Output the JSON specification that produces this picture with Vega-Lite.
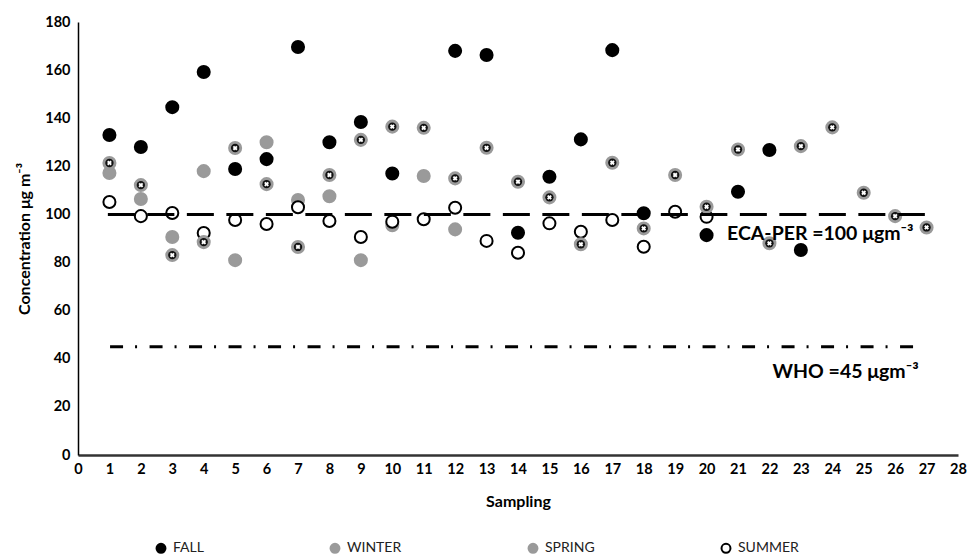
{
  "$schema": "https://vega.github.io/schema/vega-lite/v6.json",
  "width": 880,
  "height": 433,
  "autosize": {"type": "none"},
  "padding": {"left": 78, "top": 22, "right": 10, "bottom": 103},
  "background": "white",
  "config": {
    "view": {"stroke": null},
    "font": "Lato",
    "axis": {"grid": false, "ticks": false, "labelFont": "Lato", "labelFontWeight": "bold", "labelFontSize": 14.5, "labelColor": "#000", "titleFont": "Lato", "titleFontWeight": "bold", "titleFontSize": 16, "titleColor": "#000"}
  },
  "data": {"values": [
    {"s": 1, "season": "FALL", "c": 133}, {"s": 2, "season": "FALL", "c": 128}, {"s": 3, "season": "FALL", "c": 144.6}, {"s": 4, "season": "FALL", "c": 159.2},
    {"s": 5, "season": "FALL", "c": 118.9}, {"s": 6, "season": "FALL", "c": 123}, {"s": 7, "season": "FALL", "c": 169.6}, {"s": 8, "season": "FALL", "c": 130},
    {"s": 9, "season": "FALL", "c": 138.4}, {"s": 10, "season": "FALL", "c": 117}, {"s": 12, "season": "FALL", "c": 168}, {"s": 13, "season": "FALL", "c": 166.3},
    {"s": 14, "season": "FALL", "c": 92.4}, {"s": 15, "season": "FALL", "c": 115.7}, {"s": 16, "season": "FALL", "c": 131.2}, {"s": 17, "season": "FALL", "c": 168.3},
    {"s": 18, "season": "FALL", "c": 100.5}, {"s": 20, "season": "FALL", "c": 91.4}, {"s": 21, "season": "FALL", "c": 109.4}, {"s": 22, "season": "FALL", "c": 126.8},
    {"s": 23, "season": "FALL", "c": 85.2},
    {"s": 1, "season": "SPRING", "c": 117.2}, {"s": 2, "season": "SPRING", "c": 106.4}, {"s": 3, "season": "SPRING", "c": 90.6}, {"s": 4, "season": "SPRING", "c": 118},
    {"s": 5, "season": "SPRING", "c": 81}, {"s": 6, "season": "SPRING", "c": 130}, {"s": 7, "season": "SPRING", "c": 106}, {"s": 8, "season": "SPRING", "c": 107.6},
    {"s": 9, "season": "SPRING", "c": 81}, {"s": 10, "season": "SPRING", "c": 95.5}, {"s": 11, "season": "SPRING", "c": 116}, {"s": 12, "season": "SPRING", "c": 93.8},
    {"s": 1, "season": "WINTER", "c": 121.4}, {"s": 2, "season": "WINTER", "c": 112.2}, {"s": 3, "season": "WINTER", "c": 83.1}, {"s": 4, "season": "WINTER", "c": 88.5},
    {"s": 5, "season": "WINTER", "c": 127.6}, {"s": 6, "season": "WINTER", "c": 112.6}, {"s": 7, "season": "WINTER", "c": 86.5}, {"s": 8, "season": "WINTER", "c": 116.4},
    {"s": 9, "season": "WINTER", "c": 131}, {"s": 10, "season": "WINTER", "c": 136.5}, {"s": 11, "season": "WINTER", "c": 136}, {"s": 12, "season": "WINTER", "c": 115},
    {"s": 13, "season": "WINTER", "c": 127.7}, {"s": 14, "season": "WINTER", "c": 113.6}, {"s": 15, "season": "WINTER", "c": 107.1}, {"s": 16, "season": "WINTER", "c": 87.6},
    {"s": 17, "season": "WINTER", "c": 121.5}, {"s": 18, "season": "WINTER", "c": 94.2}, {"s": 19, "season": "WINTER", "c": 116.4}, {"s": 20, "season": "WINTER", "c": 103.2},
    {"s": 21, "season": "WINTER", "c": 127}, {"s": 22, "season": "WINTER", "c": 88}, {"s": 23, "season": "WINTER", "c": 128.4}, {"s": 24, "season": "WINTER", "c": 136.2},
    {"s": 25, "season": "WINTER", "c": 109}, {"s": 26, "season": "WINTER", "c": 99.3}, {"s": 27, "season": "WINTER", "c": 94.6},
    {"s": 1, "season": "SUMMER", "c": 105.2}, {"s": 2, "season": "SUMMER", "c": 99.3}, {"s": 3, "season": "SUMMER", "c": 100.6}, {"s": 4, "season": "SUMMER", "c": 92.3},
    {"s": 5, "season": "SUMMER", "c": 97.7}, {"s": 6, "season": "SUMMER", "c": 96}, {"s": 7, "season": "SUMMER", "c": 103}, {"s": 8, "season": "SUMMER", "c": 97.3},
    {"s": 9, "season": "SUMMER", "c": 90.6}, {"s": 10, "season": "SUMMER", "c": 97}, {"s": 11, "season": "SUMMER", "c": 98}, {"s": 12, "season": "SUMMER", "c": 102.8},
    {"s": 13, "season": "SUMMER", "c": 89}, {"s": 14, "season": "SUMMER", "c": 84.1}, {"s": 15, "season": "SUMMER", "c": 96.3}, {"s": 16, "season": "SUMMER", "c": 92.8},
    {"s": 17, "season": "SUMMER", "c": 97.7}, {"s": 18, "season": "SUMMER", "c": 86.6}, {"s": 19, "season": "SUMMER", "c": 101.1}, {"s": 20, "season": "SUMMER", "c": 99}
  ]},
  "layer": [
    {
      "mark": {"type": "point", "shape": "circle", "filled": true, "strokeWidth": 2, "size": 145, "opacity": 1, "fillOpacity": 1, "strokeOpacity": 1},
      "encoding": {
        "x": {"field": "s", "type": "quantitative", "scale": {"domain": [0, 28], "nice": false},
              "axis": {"title": "Sampling", "values": [0,1,2,3,4,5,6,7,8,9,10,11,12,13,14,15,16,17,18,19,20,21,22,23,24,25,26,27,28], "tickCount": 40, "format": "d", "labelOverlap": false, "labelBound": false, "labelFlush": false, "labelPadding": 7, "titlePadding": 18, "domainColor": "#333", "domainWidth": 2.5}},
        "y": {"field": "c", "type": "quantitative", "scale": {"domain": [0, 180], "nice": false},
              "axis": {"title": "Concentration μg m⁻³", "values": [0,20,40,60,80,100,120,140,160,180], "tickCount": 20, "format": "d", "labelPadding": 8, "titlePadding": 12, "domainColor": "#000", "domainWidth": 1.5}},
        "fill": {"field": "season", "type": "nominal", "scale": {"domain": ["FALL", "WINTER", "SPRING", "SUMMER"], "range": ["#000000", "#9a9a9a", "#9a9a9a", "#ffffff"]},
                 "legend": {"title": null, "orient": "none", "direction": "horizontal", "legendX": 76, "legendY": 519, "columns": 4, "columnPadding": 122, "symbolSize": 80, "symbolStrokeWidth": 2, "labelFontSize": 14, "labelFont": "Lato", "labelColor": "#222", "labelOffset": 5}},
        "stroke": {"field": "season", "type": "nominal", "scale": {"domain": ["FALL", "WINTER", "SPRING", "SUMMER"], "range": ["#000000", "#9a9a9a", "#9a9a9a", "#000000"]}},
        "order": {"field": "season", "sort": "ascending"}
      }
    },
    {
      "data": {"values": [{}]},
      "mark": {"type": "rule", "color": "#000", "strokeWidth": 3, "strokeDash": [27, 12.5]},
      "encoding": {
        "x": {"datum": 0.95, "type": "quantitative"},
        "x2": {"datum": 26.95},
        "y": {"datum": 100, "type": "quantitative"}
      }
    },
    {
      "data": {"values": [{}]},
      "mark": {"type": "rule", "color": "#000", "strokeWidth": 3, "strokeDash": [13, 12, 2, 12.5]},
      "encoding": {
        "x": {"datum": 1.02, "type": "quantitative"},
        "x2": {"datum": 26.95},
        "y": {"datum": 45, "type": "quantitative"}
      }
    },
    {
      "transform": [{"filter": "datum.season === 'WINTER'"}],
      "mark": {"type": "point", "shape": "circle", "filled": true, "color": "#111111", "size": 70, "opacity": 1},
      "encoding": {
        "x": {"field": "s", "type": "quantitative"},
        "y": {"field": "c", "type": "quantitative"}
      }
    },
    {
      "transform": [{"filter": "datum.season === 'WINTER'"}],
      "mark": {"type": "point", "shape": "cross", "filled": true, "color": "#ffffff", "size": 24, "angle": 45, "opacity": 1},
      "encoding": {
        "x": {"field": "s", "type": "quantitative"},
        "y": {"field": "c", "type": "quantitative"}
      }
    },
    {
      "data": {"values": [{}]},
      "mark": {"type": "text", "text": "ECA-PER =100 μgm⁻³", "font": "Lato", "fontWeight": "bold", "fontSize": 19.5, "align": "left", "baseline": "middle", "color": "#000"},
      "encoding": {"x": {"datum": 20.65, "type": "quantitative"}, "y": {"datum": 92, "type": "quantitative"}}
    },
    {
      "data": {"values": [{}]},
      "mark": {"type": "text", "text": "WHO =45 μgm⁻³", "font": "Lato", "fontWeight": "bold", "fontSize": 19.5, "align": "left", "baseline": "middle", "color": "#000"},
      "encoding": {"x": {"datum": 22.1, "type": "quantitative"}, "y": {"datum": 34.5, "type": "quantitative"}}
    }
  ]
}
